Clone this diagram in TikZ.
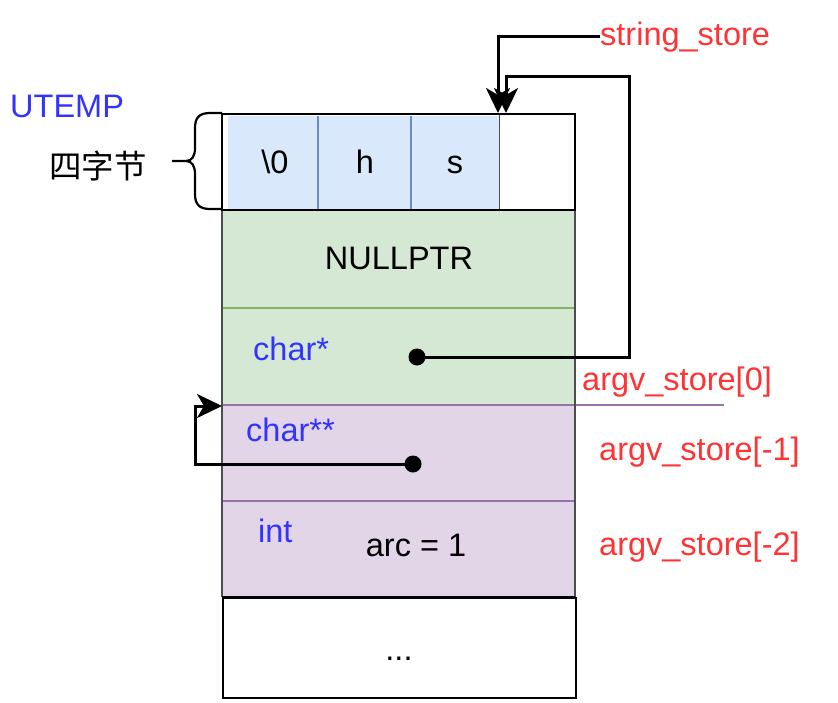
\documentclass[tikz,border=0pt]{standalone}
\usepackage{fontspec}
\setmainfont{Liberation Sans}
\newfontfamily\cjk{Noto Sans CJK SC}
\usetikzlibrary{arrows.meta}
\definecolor{bluef}{HTML}{DAE8FC}
\definecolor{blued}{HTML}{6C8EBF}
\definecolor{grnf}{HTML}{D5E8D4}
\definecolor{grnd}{HTML}{82B366}
\definecolor{purf}{HTML}{E1D5E7}
\definecolor{purd}{HTML}{9673A6}
\definecolor{sidec}{HTML}{4D4D4D}
\definecolor{redt}{HTML}{FF3333}
\definecolor{bluet}{HTML}{3333FF}
\begin{document}
\begin{tikzpicture}[x=1pt,y=-1pt,
  txt/.style={inner sep=0pt, font=\fontsize{32.5}{39}\selectfont},
  lbl/.style={txt, anchor=base west},
  ctr/.style={txt, anchor=base},
  red/.style={text=redt},
  typ/.style={text=bluet},
  box/.style={inner sep=0pt, anchor=north west, draw=none},
  dot/.style={circle, fill=black, minimum size=17pt, inner sep=0pt},
  ptr/.style={line width=3pt, -{Stealth[length=25pt, width=24pt, inset=7pt]}},
  sep/.style={line width=2.2pt}]
\useasboundingbox (0,0) rectangle (838,702);

% row fills
\node[box, fill=bluef, minimum width=271pt, minimum height=94pt] (bytes) at (228,116) {};
\node[box, fill=grnf, minimum width=353pt, minimum height=98pt] (nullrow) at (222,210) {};
\node[box, fill=grnf, minimum width=353pt, minimum height=96pt] (ptrrow) at (222,308) {};
\node[box, fill=purf, minimum width=353pt, minimum height=97pt] (pprow) at (222,404) {};
\node[box, fill=purf, minimum width=353pt, minimum height=96pt] (introw) at (222,501) {};
\node[box, draw=black, line width=2.2pt, minimum width=353pt, minimum height=100pt] (dotrow) at (222,597) {};

% separators
\draw[sep, blued] (318,116) -- (318,210);
\draw[sep, blued] (411,116) -- (411,210);
\draw[line width=1pt, sidec] (499,114) -- (499,210);
\draw[sep, grnd] (222,308) -- (575,308);
\draw[sep, purd] (222,405) -- (724,405);
\draw[sep, purd] (222,501) -- (575,501);
\draw[sep, sidec] (222,210) -- (222,597);
\draw[sep, sidec] (575,210) -- (575,597);
\draw[sep, black] (222,597) -- (575,597);
\draw[sep, black] (222,114) rectangle (575,210);

% brace
\draw[line width=2.2pt, line join=round] (222,113) -- (210,113) .. controls (199,113) and (195,118) .. (195,128) -- (195,148) .. controls (195,156) and (192,161) .. (186,161) -- (172,161);
\draw[line width=2.2pt, line join=round] (222,209) -- (210,209) .. controls (199,209) and (195,204) .. (195,194) -- (195,174) .. controls (195,166) and (192,161) .. (186,161);

% texts
\node[lbl, typ] (utemp) at (10,117) {UTEMP};
\node[lbl] (four) at (49,178) {\cjk 四字节};
\node[ctr] (c0) at (275,173) {\textbackslash 0};
\node[ctr] (ch) at (365,173) {h};
\node[ctr] (cs) at (455,173) {s};
\node[ctr] (nullptr) at (399,269) {NULLPTR};
\node[lbl, typ] (tchar) at (253,360) {char*};
\node[lbl, typ] (tcharr) at (246,441) {char**};
\node[lbl, typ] (tint) at (258,542) {int};
\node[ctr] (arc) at (416,556) {arc = 1};
\node[ctr] (more) at (399,660) {...};
\node[lbl, red] (ss) at (600,45) {string\_store};
\node[lbl, red] (a0) at (582,390) {argv\_store[0]};
\node[lbl, red] (a1) at (599,460) {argv\_store[-1]};
\node[lbl, red] (a2) at (599,555) {argv\_store[-2]};

% connector points
\coordinate (s0) at (600,36);
\coordinate (t1) at (498,113);
\coordinate (c1) at (629,76);
\coordinate (t2) at (506,113);
\coordinate (c2) at (195,406);
\coordinate (t3) at (222,406);

% connectors
\draw[ptr, line join=miter] (s0) -| (t1);
\draw[ptr, line join=miter] (417,357) -| (c1) -| (t2);
\draw[ptr, line join=miter] (413,464) -| (c2) -- (t3);
\node[dot] (d1) at (417,357) {};
\node[dot] (d2) at (413,464) {};
\end{tikzpicture}
\end{document}
